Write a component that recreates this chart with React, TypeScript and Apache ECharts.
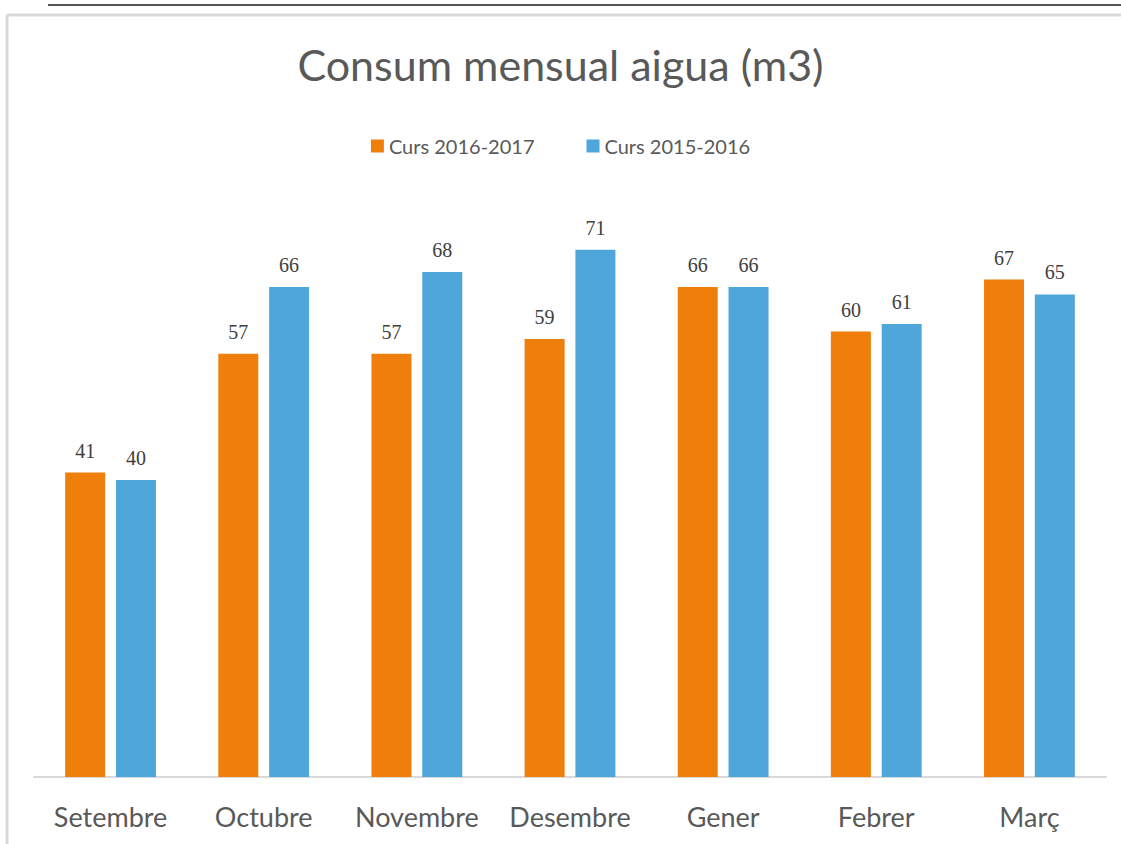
import React, { useEffect, useRef } from "react";
import * as echarts from "echarts";

const categories = ["Setembre", "Octubre", "Novembre", "Desembre", "Gener", "Febrer", "Març"];
const seriesNames = ["Curs 2016-2017", "Curs 2015-2016"];
const curs2016_2017 = [41, 57, 57, 59, 66, 60, 67];
const curs2015_2016 = [40, 66, 68, 71, 66, 61, 65];
const titleText = "Consum mensual aigua (m3)";

export default function App() {
  const ref = useRef<HTMLDivElement>(null);
  useEffect(() => {
    if (!ref.current) return;
    const chart = echarts.init(ref.current, null, { renderer: "svg" });
    const labelStyle = {
      show: true,
      position: "top",
      distance: 12,
      fontFamily: "Liberation Serif",
      fontSize: 20,
      color: "#404040",
    };
    chart.setOption({
      animation: false,
      backgroundColor: "#ffffff",
      title: {
        text: titleText,
        left: "center",
        top: 38,
        textStyle: { fontFamily: "Lato", fontSize: 43, fontWeight: "normal", color: "#595959" },
      },
      legend: {
        data: seriesNames,
        top: 131,
        left: "center",
        itemWidth: 13,
        itemHeight: 13,
        itemGap: 52,
        icon: "rect",
        textStyle: { fontFamily: "Lato", fontSize: 20, color: "#595959" },
      },
      grid: { left: 34, right: 15, top: 183, bottom: 67, containLabel: false },
      xAxis: {
        type: "category",
        data: categories,
        axisLine: { show: true, lineStyle: { color: "#d9d9d9", width: 2 } },
        axisTick: { show: false },
        axisLabel: { fontFamily: "Lato", fontSize: 27, color: "#595959", margin: 26, interval: 0 },
      },
      yAxis: {
        type: "value",
        min: 0,
        max: 80,
        interval: 10,
        show: false,
        splitLine: { show: false },
      },
      graphic: [
        { type: "line", shape: { x1: 48, y1: 5, x2: 1121, y2: 5 }, style: { stroke: "#555555", lineWidth: 2 } },
        { type: "line", shape: { x1: 7, y1: 15, x2: 1121, y2: 15 }, style: { stroke: "#d9d9d9", lineWidth: 3 } },
        { type: "line", shape: { x1: 7, y1: 15, x2: 7, y2: 844 }, style: { stroke: "#d9d9d9", lineWidth: 3 } },
      ],
      series: [
        {
          name: seriesNames[0],
          type: "bar",
          data: curs2016_2017,
          barWidth: 40,
          barGap: "27%",
          itemStyle: { color: "#EF7F0A" },
          label: labelStyle,
        },
        {
          name: seriesNames[1],
          type: "bar",
          data: curs2015_2016,
          barWidth: 40,
          barGap: "27%",
          itemStyle: { color: "#4EA6DB" },
          label: labelStyle,
        },
      ],
    });
    return () => chart.dispose();
  }, []);
  return (
    <div
      ref={ref}
      style={{ position: "fixed", left: 0, top: 0, width: 1121, height: 844 }}
    />
  );
}
